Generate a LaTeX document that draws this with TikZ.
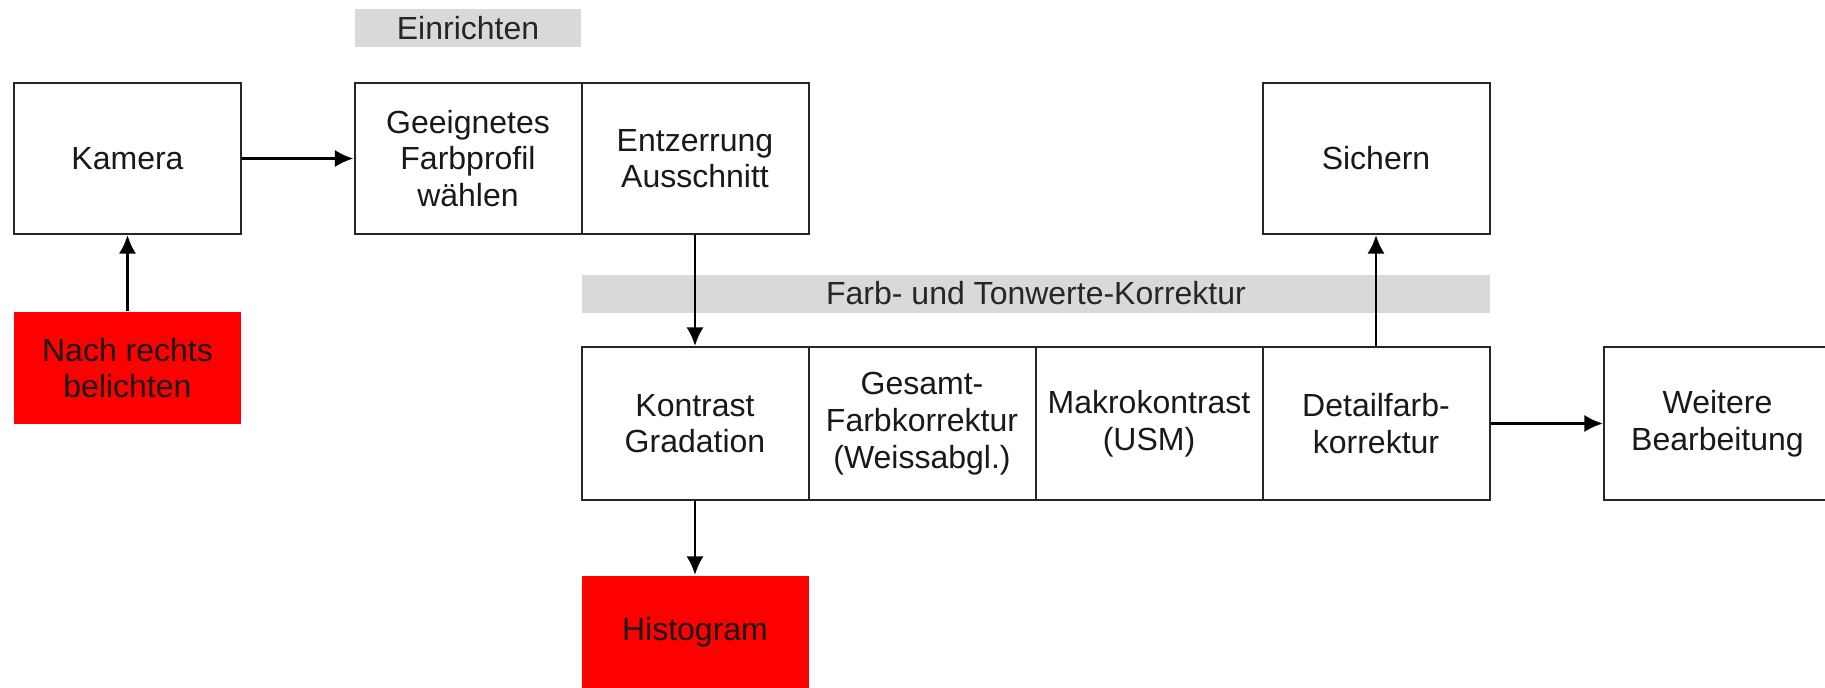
\documentclass[tikz,border=0pt]{standalone}
\usepackage{fontspec}
\setmainfont{Liberation Sans}
\usetikzlibrary{arrows.meta,positioning}

\begin{document}
\begin{tikzpicture}[x=0.75pt,y=-0.75pt,->,>={Latex[length=14pt,width=13pt]},
                    line width=1.5pt,node distance=-1.5pt,
                    main node/.style={rectangle,draw=black!85,fill=white,inner sep=0pt,
                      minimum width=170.25pt,minimum height=113.25pt,align=center,
                      text=black!90,font=\fontsize{24}{27.5}\selectfont},
                    red node/.style={main node,draw=none,fill=red,minimum height=84pt},
                    bar node/.style={rectangle,fill=black!15,inner sep=0pt,minimum height=28.5pt,
                      text=black!85,font=\fontsize{24}{27.5}\selectfont}]
  \useasboundingbox (0,0) rectangle (1825,688);
  %Einrichten%
  \node[bar node,minimum width=169.5pt] (einrichten) at (468,28) {Einrichten};
  \node[main node] (kamera) at (127.5,158.5) {Kamera};
  \node[red node] (belichten) at (127.5,368) {Nach rechts\\belichten};
  \node[main node] (profil) at (468,158.5) {Geeignetes\\Farbprofil\\wählen};
  \node[main node] (entzerrung) [right=of profil] {Entzerrung\\Ausschnitt};
  \node[main node] (sichern) at (1376,158.5) {Sichern};

  %Farb- und Tonwerte-Korrektur%
  \node[bar node,minimum width=681pt] (korrektur) at (1036,293.5) {Farb- und Tonwerte-Korrektur};
  \node[main node,minimum height=114.75pt] (kontrast) at (695,423.5) {Kontrast\\Gradation};
  \node[main node,minimum height=114.75pt] (gesamt) [right=of kontrast] {Gesamt-\\Farbkorrektur\\(Weissabgl.)};
  \node[main node,minimum height=114.75pt] (makro) [right=of gesamt] {Makrokontrast\\(USM)};
  \node[main node,minimum height=114.75pt] (detail) [right=of makro] {Detailfarb-\\korrektur};
  \node[main node,minimum height=114.75pt] (weitere) at (1717.5,423.5) {Weitere\\Bearbeitung};
  \node[red node] (histogram) at (695,632) {Histogram};

  \path[draw=black,line width=2.2pt]
    (kamera) edge (profil)
    (belichten) edge (kamera)
    (entzerrung) edge (kontrast)
    (kontrast) edge (histogram)
    (detail) edge (sichern)
    (detail) edge (weitere);
\end{tikzpicture}
\end{document}
